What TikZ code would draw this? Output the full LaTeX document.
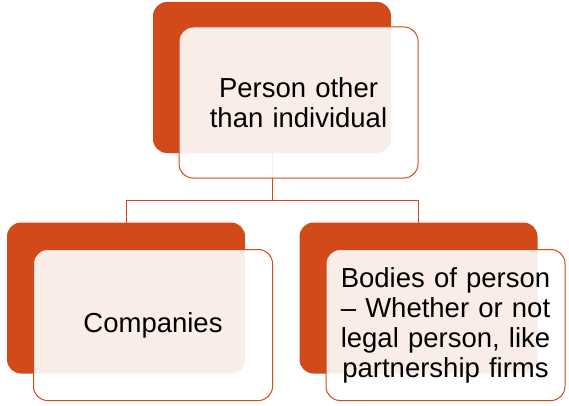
\documentclass[tikz,border=0pt]{standalone}
\usepackage{fontspec}
\setmainfont{Liberation Sans}
\definecolor{accent}{RGB}{211,74,26}
\begin{document}
\begin{tikzpicture}[x=1pt,y=-1pt,
  backbox/.style={rectangle,rounded corners=14pt,fill=accent,draw=none,
    minimum width=238pt,minimum height=151pt,inner sep=0pt,outer sep=0pt},
  frontbox/.style={rectangle,rounded corners=14pt,draw=accent,line width=1pt,
    fill=white,fill opacity=0.9,text opacity=1,
    minimum width=239pt,minimum height=151pt,inner sep=0pt,outer sep=0pt,
    text width=225pt,align=center,font=\fontsize{27.5}{30}\selectfont},
  link/.style={draw=accent,line width=0.8pt}]
\useasboundingbox (0,0) rectangle (569,406);
\node[backbox] (tb) at (272,77.5) {};
\node[backbox] (lb) at (126,298) {};
\node[backbox] (rb) at (418.5,298) {};
\coordinate (j) at (272,200);
\draw[link] (tb.south) -- (j) -| (lb.north);
\draw[link] (j) -| (rb.north);
\node[frontbox] (tf) at (298.5,102.5) {Person other\\than individual};
\node[frontbox] (lf) at (153,325) {Companies};
\node[frontbox] (rf) at (445.5,325) {Bodies of person\\– Whether or not\\legal person, like\\partnership firms};
\end{tikzpicture}
\end{document}
